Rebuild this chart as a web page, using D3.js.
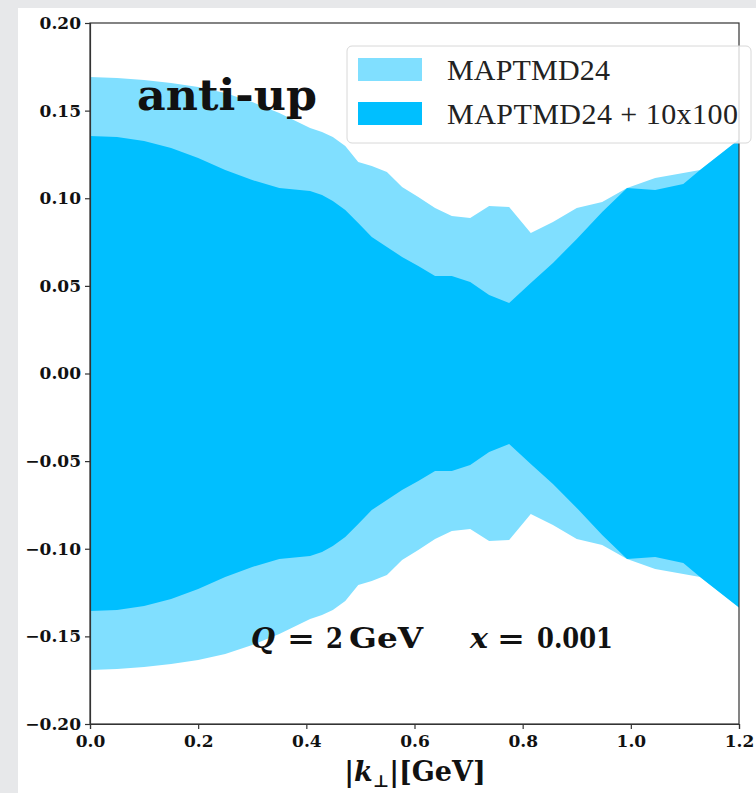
<!DOCTYPE html>
<html>
<head>
<meta charset="utf-8">
<script src="https://cdn.jsdelivr.net/npm/d3@7"></script>
<style>
  html, body { margin: 0; padding: 0; background: #e7e8ea; }
  svg { display: block; }
</style>
</head>
<body>
<svg id="chart" width="756" height="793"></svg>
<script>
// Transverse momentum grid |k_perp| in GeV
const kPerp = [0, 0.05, 0.10, 0.15, 0.20, 0.25, 0.30, 0.35, 0.388, 0.407, 0.429, 0.449,
  0.472, 0.496, 0.521, 0.549, 0.577, 0.607, 0.638, 0.669, 0.703, 0.738, 0.775, 0.815,
  0.856, 0.900, 0.947, 0.993, 1.045, 1.097, 1.128, 1.2];

// Half-width of the uncertainty band, MAPTMD24
const bandMAPTMD24 = [0.1692, 0.1686, 0.1675, 0.1658, 0.1635, 0.1601, 0.1549, 0.1486, 0.1429,
  0.1401, 0.1378, 0.1350, 0.1298, 0.1207, 0.1184, 0.1150, 0.1064, 0.1007, 0.0944, 0.0899,
  0.0887, 0.0956, 0.0950, 0.0802, 0.0864, 0.0944, 0.0979, 0.1058, 0.1116, 0.1144, 0.1161, 0.1335];

// Half-width of the uncertainty band, MAPTMD24 + 10x100
const bandWithEIC = [0.1355, 0.1350, 0.1327, 0.1287, 0.1230, 0.1161, 0.1104, 0.1058, 0.1047,
  0.1041, 0.1019, 0.0984, 0.0933, 0.0859, 0.0779, 0.0722, 0.0665, 0.0613, 0.0556, 0.0556,
  0.0522, 0.0448, 0.0402, 0.0516, 0.0631, 0.0767, 0.0922, 0.1058, 0.1047, 0.1081, 0.1161, 0.1335];

const xTicks = [0.0, 0.2, 0.4, 0.6, 0.8, 1.0, 1.2];
const yTicks = [-0.20, -0.15, -0.10, -0.05, 0.00, 0.05, 0.10, 0.15, 0.20];
const seriesNames = ["MAPTMD24", "MAPTMD24 + 10x100"];
const seriesColors = ["#80dfff", "#00bfff"];

const svg = d3.select("#chart");
const W = 756, H = 793;
const plotLeft = 90, plotRight = 739, plotTop = 23, plotBottom = 724;

// white panel over the slide background
svg.append("rect").attr("x", 18).attr("y", 8).attr("width", W - 18).attr("height", H - 8)
  .attr("fill", "#ffffff");

const x = d3.scaleLinear().domain([0, 1.2]).range([plotLeft, plotRight]);
const y = d3.scaleLinear().domain([-0.2, 0.2]).range([plotBottom, plotTop]);

const serif = "'DejaVu Serif', serif";

// bands: symmetric uncertainty envelopes around zero
const bands = [bandMAPTMD24, bandWithEIC];
bands.forEach((band, i) => {
  const rows = kPerp.map((k, j) => ({ k, w: band[j] }));
  const area = d3.area()
    .x(d => x(d.k))
    .y0(d => y(-d.w))
    .y1(d => y(d.w));
  svg.append("path").datum(rows).attr("d", area).attr("fill", seriesColors[i]);
});

// frame
svg.append("rect").attr("x", plotLeft).attr("y", plotTop).attr("width", plotRight - plotLeft)
  .attr("height", plotBottom - plotTop).attr("fill", "none").attr("stroke", "#333").attr("stroke-width", 1.2);

// axes
const fmtY = v => (v < 0 ? "\u2212" : "") + Math.abs(v).toFixed(2);
const yAxis = d3.axisLeft(y).tickValues(yTicks).tickSize(5).tickPadding(4).tickFormat(fmtY);
const gy = svg.append("g").attr("transform", `translate(${plotLeft},0)`).call(yAxis);
const xAxis = d3.axisBottom(x).tickValues(xTicks).tickSize(5).tickPadding(6).tickFormat(d3.format(".1f"));
const gx = svg.append("g").attr("transform", `translate(0,${plotBottom})`).call(xAxis);
[gx, gy].forEach(g => {
  g.select(".domain").attr("stroke", "#333").attr("stroke-width", 1.2);
  g.selectAll(".tick line").attr("stroke", "#333").attr("stroke-width", 1.2);
  g.selectAll(".tick text").attr("font-family", serif).attr("font-weight", "bold")
    .attr("font-size", 17).attr("fill", "#111");
});

// x-axis title
const xt = svg.append("text").attr("x", 415).attr("y", 781).attr("text-anchor", "middle")
  .attr("font-family", serif).attr("font-weight", "bold").attr("font-size", 27).attr("fill", "#111");
xt.append("tspan").text("|");
xt.append("tspan").attr("font-style", "italic").text("k");
xt.append("tspan").attr("font-size", 17).attr("dy", 6).text("\u22a5");
xt.append("tspan").attr("dy", -6).text("|[GeV]");

// particle label
svg.append("text").attr("x", 137).attr("y", 110).attr("font-family", serif)
  .attr("font-weight", "bold").attr("font-size", 43).attr("fill", "#111")
  .attr("textLength", 180).attr("lengthAdjust", "spacingAndGlyphs").text("anti-up");

// kinematics, laid out piece by piece like typeset math
const kinPieces = [
  { t: "Q", x0: 251, w: 24, it: true },
  { t: "=", x0: 287, w: 28, it: false },
  { t: "2", x0: 326, w: 17, it: false },
  { t: "GeV", x0: 349, w: 74, it: false },
  { t: "x", x0: 470, w: 18, it: true },
  { t: "=", x0: 497, w: 28, it: false },
  { t: "0.001", x0: 537, w: 76, it: false }
];
kinPieces.forEach(p => {
  svg.append("text").attr("x", p.x0).attr("y", 648).attr("font-family", serif)
    .attr("font-weight", "bold").attr("font-size", 27).attr("fill", "#111")
    .attr("font-style", p.it ? "italic" : "normal")
    .attr("textLength", p.w).attr("lengthAdjust", "spacingAndGlyphs").text(p.t);
});

// legend
const legendWidths = [163, 291];
const lg = svg.append("g");
lg.append("rect").attr("x", 347).attr("y", 46).attr("width", 404).attr("height", 97)
  .attr("rx", 5).attr("fill", "rgba(255,255,255,0.8)").attr("stroke", "#d8d8d8").attr("stroke-width", 1);
seriesNames.forEach((name, i) => {
  const yy = 58 + i * 44;
  lg.append("rect").attr("x", 358).attr("y", yy).attr("width", 64).attr("height", 23)
    .attr("fill", seriesColors[i]);
  lg.append("text").attr("x", 447).attr("y", yy + 22).attr("font-family", "'Liberation Serif', serif")
    .attr("font-size", 30).attr("fill", "#222")
    .attr("textLength", legendWidths[i]).attr("lengthAdjust", "spacing").text(name);
});
</script>
</body>
</html>
